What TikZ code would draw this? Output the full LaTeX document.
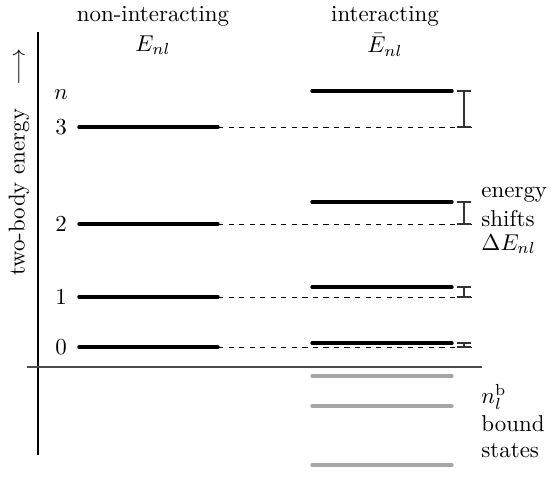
\documentclass[tikz,border=0pt]{standalone}
\begin{document}
\begin{tikzpicture}[x=0.4366pt,y=-0.4366pt,
  elevel/.style={line width=1.5pt,line cap=round},
  bstate/.style={line width=1.4pt,line cap=round,black!35},
  guide/.style={line width=0.4pt,dash pattern=on 2.3pt off 2.3pt},
  shiftbar/.style={line width=0.5pt,black!80},
  axisline/.style={line width=0.5pt},
  lbl/.style={inner sep=0pt}]
\useasboundingbox (0,0) rectangle (560,481);
% axes
\coordinate (ytop) at (38,32);
\coordinate (ybot) at (38,455);
\coordinate (xl) at (27,367);
\coordinate (xr) at (482,367);
\draw[axisline] (ytop) -- (ybot);
\draw[axisline,black!70] (xl) -- (xr);
\node[lbl,rotate=90] (ylab) at (19,162) {two-body energy \hspace{7pt}$\longrightarrow$};
% headers
\node[lbl] (h1) at (153,16) {non-interacting};
\node[lbl] (h1e) at (153,45) {$E_{nl}$};
\node[lbl] (h2) at (385,16) {interacting};
\node[lbl] (h2e) at (385,45) {$\bar{E}_{nl}$};
\node[lbl] (nlab) at (61,95) {$n$};
% non-interacting levels
\foreach \n/\y in {3/127,2/224,1/297,0/347}{
  \coordinate (a\n) at (79,\y);
  \coordinate (b\n) at (218,\y);
  \coordinate (c\n) at (471,\y);
  \node[lbl] (num\n) at (61,\y) {$\n$};
}
\foreach \n in {0,1,2,3}{
  \draw[guide] (b\n) -- (c\n);
  \draw[elevel] (a\n) -- (b\n);
}
% interacting levels
\foreach \n/\y in {3/91,2/202,1/287,0/343}{
  \coordinate (p\n) at (312,\y);
  \coordinate (q\n) at (452,\y);
  \coordinate (s\n) at (464,\y);
  \draw[elevel] (p\n) -- (q\n);
}
% shifts
\foreach \n in {0,1,2,3}{
  \coordinate (t\n) at (s\n |- c\n);
  \draw[shiftbar] (s\n) -- (t\n);
  \draw[shiftbar] ([xshift=-3pt]s\n) -- ([xshift=3pt]s\n);
  \draw[shiftbar] ([xshift=-3pt]t\n) -- ([xshift=3pt]t\n);
}
% bound states
\foreach \k/\y in {1/376,2/406,3/465}{
  \coordinate (u\k) at (312,\y);
  \coordinate (v\k) at (452,\y);
  \draw[bstate] (u\k) -- (v\k);
}
% right labels
\node[lbl,anchor=west] (e1) at (481,195) {energy};
\node[lbl,anchor=west] (e2) at (481,219) {shifts};
\node[lbl,anchor=west] (e3) at (481,244) {$\Delta E_{nl}$};
\node[lbl,anchor=west] (b1) at (481,397) {$n_l^{\mathrm{b}}$};
\node[lbl,anchor=west] (b2) at (481,424) {bound};
\node[lbl,anchor=west] (b3) at (481,451) {states};
\end{tikzpicture}
\end{document}
